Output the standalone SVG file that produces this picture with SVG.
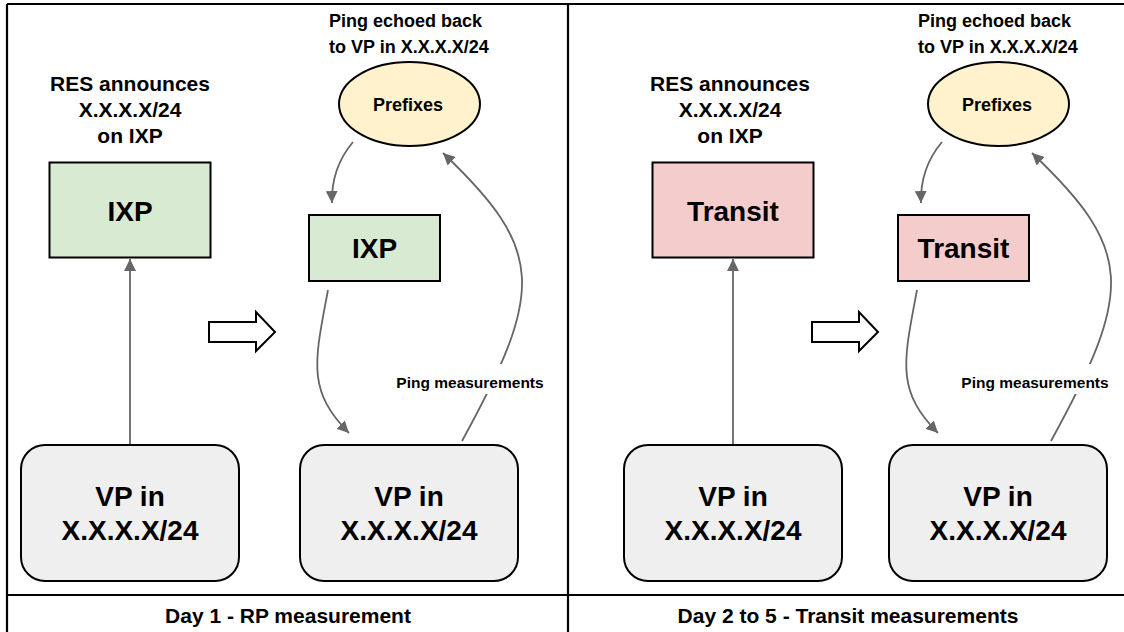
<svg xmlns="http://www.w3.org/2000/svg" width="1124" height="632" viewBox="0 0 1124 632">
<defs>
<marker id="ah" markerUnits="userSpaceOnUse" markerWidth="14" markerHeight="12" refX="12" refY="6" orient="auto">
<path d="M0,0 L12,6 L0,12 Z" fill="#666666"/>
</marker>
<style>
text{font-family:"Liberation Sans",Arial,sans-serif;font-weight:bold;fill:#000;text-anchor:middle}
.box{stroke:#000;stroke-width:2}
.ixp{fill:#d9ead3}
.tr{fill:#f4cccc}
.vp{fill:#efefef}
.pre{fill:#fff2cc}
.con{fill:none;stroke:#666666;stroke-width:1.8}
.frame{stroke:#000;stroke-width:2.2;fill:none}
.hollow{fill:#fff;stroke:#000;stroke-width:2}
.t21{font-size:21px}
.t28{font-size:28px}
.t18{font-size:18px;text-anchor:start}
.t17{font-size:18px}
.t15{font-size:15.5px}
</style>
</defs>
<rect x="0" y="0" width="1124" height="632" fill="#fff"/>
<g id="frame">
<path class="frame" d="M7,4 H1124 M7,4 V632 M568,4 V632 M7,595 H1124"/>
</g>
<g id="connectors">
<path class="con" d="M130,445 V259" marker-end="url(#ah)"/>
<path class="con" d="M353,142 Q331,168 332,203" marker-end="url(#ah)"/>
<path class="con" d="M328,290 C315,360 306,390 349,433" marker-end="url(#ah)"/>
<path class="con" d="M462,441 C545,290 545,250 443,153" marker-end="url(#ah)"/>
<path class="con" d="M733,445 V259" marker-end="url(#ah)"/>
<path class="con" d="M942,142 Q920,168 921,203" marker-end="url(#ah)"/>
<path class="con" d="M917,290 C904,360 895,390 938,433" marker-end="url(#ah)"/>
<path class="con" d="M1051,441 C1134,290 1134,250 1032,153" marker-end="url(#ah)"/>
</g>
<g id="arrow-day1">
<polygon class="hollow" points="209,322 256,322 256,312 275,332 256,351 256,342 209,342"/>
</g>
<g id="arrow-day2">
<polygon class="hollow" points="812,322 859,322 859,312 878,332 859,351 859,342 812,342"/>
</g>
<g id="label-res-1">
<text class="t21" x="130" y="91">RES announces</text>
<text class="t21" x="130" y="117">X.X.X.X/24</text>
<text class="t21" x="130" y="143">on IXP</text>
</g>
<g id="ixp-big">
<rect class="box ixp" x="49.5" y="162.5" width="161" height="95"/>
<text class="t28" x="130" y="221">IXP</text>
</g>
<g id="vp-1a">
<rect class="box vp" x="21" y="445" width="218" height="136" rx="24"/>
<text class="t28" x="130" y="506">VP in</text>
<text class="t28" x="130" y="540">X.X.X.X/24</text>
</g>
<g id="label-echo-1">
<text class="t18" x="329" y="27">Ping echoed back</text>
<text class="t18" x="329" y="53">to VP in X.X.X.X/24</text>
</g>
<g id="prefixes-1">
<ellipse class="box pre" cx="409.5" cy="104" rx="70.5" ry="42"/>
<text class="t17" x="408" y="111">Prefixes</text>
</g>
<g id="ixp-small">
<rect class="box ixp" x="309" y="215" width="131" height="66"/>
<text class="t28" x="374.5" y="258">IXP</text>
</g>
<g id="vp-1b">
<rect class="box vp" x="300" y="445" width="218" height="136" rx="24"/>
<text class="t28" x="409" y="506">VP in</text>
<text class="t28" x="409" y="540">X.X.X.X/24</text>
</g>
<g id="label-ping-1">
<rect x="392" y="364" width="156" height="30" fill="#fff"/>
<text class="t15" x="470" y="388">Ping measurements</text>
</g>
<g id="label-res-2">
<text class="t21" x="730" y="91">RES announces</text>
<text class="t21" x="730" y="117">X.X.X.X/24</text>
<text class="t21" x="730" y="143">on IXP</text>
</g>
<g id="transit-big">
<rect class="box tr" x="652.5" y="162.5" width="161" height="95"/>
<text class="t28" x="733" y="221">Transit</text>
</g>
<g id="vp-2a">
<rect class="box vp" x="624" y="445" width="218" height="136" rx="24"/>
<text class="t28" x="733" y="506">VP in</text>
<text class="t28" x="733" y="540">X.X.X.X/24</text>
</g>
<g id="label-echo-2">
<text class="t18" x="918" y="27">Ping echoed back</text>
<text class="t18" x="918" y="53">to VP in X.X.X.X/24</text>
</g>
<g id="prefixes-2">
<ellipse class="box pre" cx="998.5" cy="104" rx="70.5" ry="42"/>
<text class="t17" x="997" y="111">Prefixes</text>
</g>
<g id="transit-small">
<rect class="box tr" x="898" y="215" width="131" height="66"/>
<text class="t28" x="963.5" y="258">Transit</text>
</g>
<g id="vp-2b">
<rect class="box vp" x="889" y="445" width="218" height="136" rx="24"/>
<text class="t28" x="998" y="506">VP in</text>
<text class="t28" x="998" y="540">X.X.X.X/24</text>
</g>
<g id="label-ping-2">
<rect x="957" y="364" width="156" height="30" fill="#fff"/>
<text class="t15" x="1035" y="388">Ping measurements</text>
</g>
<g id="captions">
<text class="t21" x="288" y="623">Day 1 - RP measurement</text>
<text class="t21" x="848" y="623">Day 2 to 5 - Transit measurements</text>
</g>
</svg>
